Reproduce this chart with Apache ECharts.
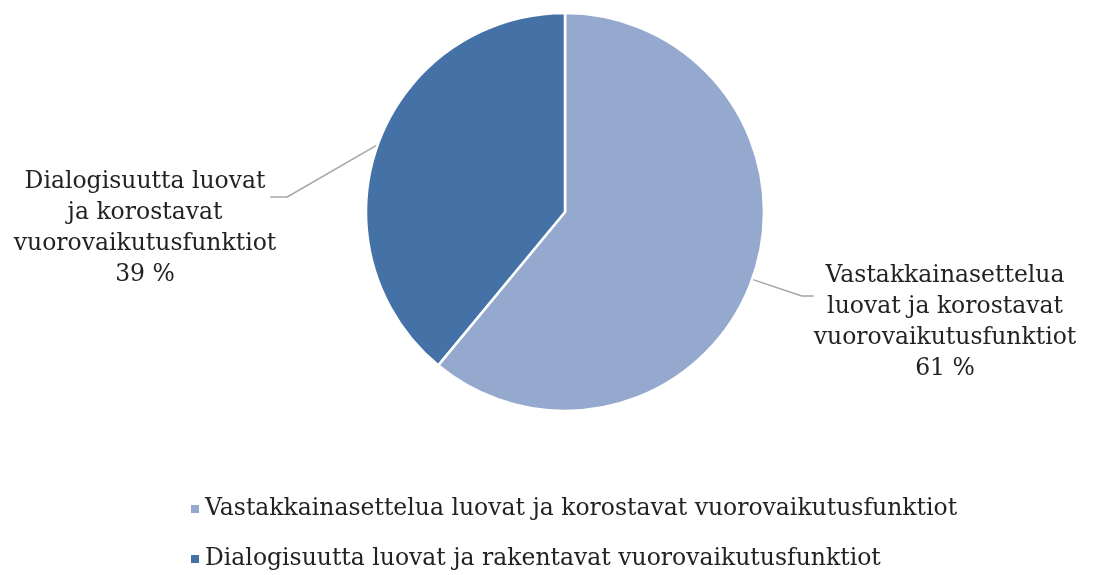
<!DOCTYPE html>
<html>
<head>
<meta charset="utf-8">
<script src="https://cdn.jsdelivr.net/npm/echarts@6/dist/echarts.min.js"></script>
<style>
    html, body { margin: 0; padding: 0; background: #fff; }
    #chart { width: 1093px; height: 575px; }
</style>
</head>
<body>
<div id="chart"></div>
<script>
    // data
    var names = [
        'Vastakkainasettelua luovat ja korostavat vuorovaikutusfunktiot',
        'Dialogisuutta luovat ja rakentavat vuorovaikutusfunktiot'
    ];
    var labelTexts = [
        'Vastakkainasettelua\nluovat ja korostavat\nvuorovaikutusfunktiot',
        'Dialogisuutta luovat\nja korostavat\nvuorovaikutusfunktiot'
    ];
    var values = [61, 39];
    var colors = ['#95a9cf', '#4472a6'];

    // where the labels sit (centre of text block) and where the guide line meets them
    var labelPos = [[945, 322], [145, 228]];
    var lineAt = [0.29, 0.25];

    var chart = echarts.init(document.getElementById('chart'));

    var font = '"DejaVu Serif", serif';

    var option = {
        animation: false,
        color: colors,
        legend: {
            orient: 'vertical',
            left: 184,
            top: 492,
            height: 120,
            itemWidth: 10,
            itemHeight: 10,
            itemGap: 26,
            icon: 'rect',
            textStyle: { fontFamily: font, fontSize: 23.5, color: '#222' },
            data: names
        },
        series: [{
            type: 'pie',
            center: [565, 212],
            radius: 199,
            startAngle: 90,
            clockwise: true,
            itemStyle: { borderColor: '#fff', borderWidth: 2.5 },
            label: {
                show: true,
                position: 'outside',
                fontFamily: font,
                fontSize: 23.5,
                lineHeight: 31,
                color: '#222',
                align: 'center',
                formatter: function (p) {
                    return labelTexts[p.dataIndex] + '\n' + p.value + ' %';
                }
            },
            labelLine: {
                show: true,
                length: 20,
                length2: 15,
                lineStyle: { color: '#a6a6a6', width: 1.5 }
            },
            labelLayout: function (p) {
                var i = p.dataIndex;
                var pos = labelPos[i];
                var w = p.labelRect.width, h = p.labelRect.height;
                var left = pos[0] < 565;
                var endX = left ? pos[0] + w / 2 - 6 : pos[0] - w / 2;
                var endY = pos[1] - h / 2 + h * lineAt[i];
                var kneeX = left ? endX + 17 : endX - 12;
                return {
                    x: pos[0],
                    y: pos[1],
                    align: 'center',
                    verticalAlign: 'middle',
                    labelLinePoints: [p.labelLinePoints[0], [kneeX, endY], [endX, endY]]
                };
            },
            data: values.map(function (v, i) {
                return { name: names[i], value: v };
            })
        }]
    };

    chart.setOption(option);
</script>
</body>
</html>
